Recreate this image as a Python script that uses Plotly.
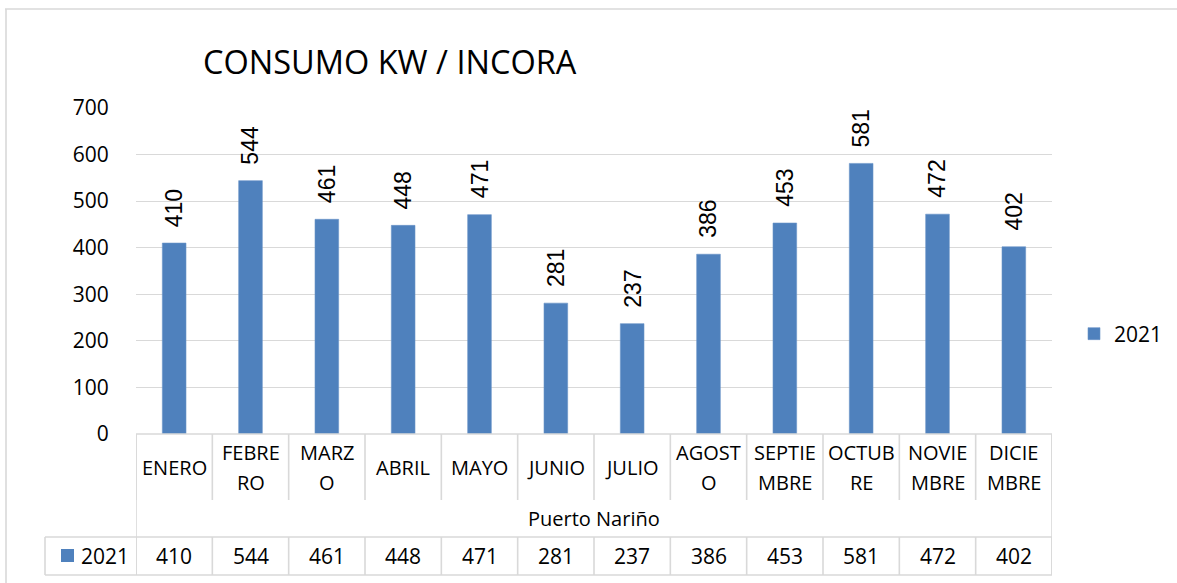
import plotly.graph_objects as go

# ---- data ----
months = ["ENERO", "FEBRE|RO", "MARZ|O", "ABRIL", "MAYO", "JUNIO", "JULIO",
          "AGOST|O", "SEPTIE|MBRE", "OCTUB|RE", "NOVIE|MBRE", "DICIE|MBRE"]
values_2021 = [410, 544, 461, 448, 471, 281, 237, 386, 453, 581, 472, 402]
series_name = "2021"
group_label = "Puerto Nariño"
title_text = "CONSUMO KW / INCORA"
y_ticks = [0, 100, 200, 300, 400, 500, 600, 700]

# ---- layout geometry (pixels) ----
WIDTH, HEIGHT = 1177, 583
L, R, T, B = 136, 1052, 108, 434
PW, PH = R - L, B - T

def px(x):
    return (x - L) / PW

def py(y):
    return (B - y) / PH

BAR_COLOR = "#4f81bd"
GRID = "#d9d9d9"
CAL = "'Open Sans', Lato, sans-serif"
ARI = "'Liberation Sans', Arial, sans-serif"

idx = list(range(len(months)))

fig = go.Figure()
fig.add_trace(go.Bar(
    x=idx, y=values_2021, name=series_name,
    marker=dict(color=BAR_COLOR, line=dict(color="#6a94c8", width=0.6)),
    width=0.31, showlegend=True,
))

annotations = []
# data labels (rotated)
for i, v in zip(idx, values_2021):
    annotations.append(dict(
        x=i, y=v, xref="x", yref="y", text=str(v), showarrow=False,
        textangle=-90, xanchor="center", yanchor="bottom", yshift=14,
        font=dict(family=ARI, size=23, color="#000000"),
    ))

# table: month row (one annotation per line to control line spacing)
for i, m in zip(idx, months):
    parts = m.split("|")
    ys = [467] if len(parts) == 1 else [453, 482]
    for part, yy in zip(parts, ys):
        annotations.append(dict(
            x=i, y=py(yy), xref="x", yref="paper", text=part, showarrow=False,
            xanchor="center", yanchor="middle",
            font=dict(family=CAL, size=20, color="#000000"),
        ))
# group label
annotations.append(dict(
    x=(len(months) - 1) / 2, y=py(518), xref="x", yref="paper", text=group_label,
    showarrow=False, xanchor="center", yanchor="middle",
    font=dict(family=CAL, size=20, color="#000000"),
))
# value row
for i, v in zip(idx, values_2021):
    annotations.append(dict(
        x=i, y=py(556), xref="x", yref="paper", text=str(v), showarrow=False,
        xanchor="center", yanchor="middle",
        font=dict(family=CAL, size=21, color="#000000"),
    ))
# row header text
annotations.append(dict(
    x=px(79), y=py(556), xref="paper", yref="paper", text=series_name,
    showarrow=False, xanchor="left", yanchor="middle",
    font=dict(family=CAL, size=21, color="#000000"),
))
# title
annotations.append(dict(
    x=px(390), y=py(62), xref="paper", yref="paper", text=title_text,
    showarrow=False, xanchor="center", yanchor="middle",
    font=dict(family=CAL, size=32.5, color="#000000"),
))

shapes = []
def line(x0, y0, x1, y1, xref="paper", yref="paper", color=GRID, w=1.6):
    shapes.append(dict(type="line", x0=x0, y0=y0, x1=x1, y1=y1, xref=xref, yref=yref,
                       line=dict(color=color, width=w), layer="above"))

n = len(months)
# outer chart border
line(px(5), py(9), px(1200), py(9))
line(px(6), py(9), px(6), py(600))
# table top
line(-0.5, py(434), n - 0.5, py(434), xref="x")
# month row separators
for k in range(n + 1):
    line(k - 0.5, py(434), k - 0.5, py(500), xref="x")
# outer table sides
line(-0.5, py(434), -0.5, py(575), xref="x")
line(n - 0.5, py(434), n - 0.5, py(575), xref="x")
# value row
line(px(45), py(537), px(R), py(537))
line(px(45), py(575), px(R), py(575))
line(px(45), py(537), px(45), py(575))
for k in range(n + 1):
    line(k - 0.5, py(537), k - 0.5, py(575), xref="x")
# row header key square
shapes.append(dict(type="rect", xref="paper", yref="paper",
                   x0=px(61), x1=px(74), y0=py(562), y1=py(549),
                   fillcolor=BAR_COLOR, line=dict(width=0)))

fig.update_layout(
    width=WIDTH, height=HEIGHT,
    margin=dict(l=L, r=WIDTH - R, t=T, b=HEIGHT - B, pad=0),
    paper_bgcolor="white", plot_bgcolor="white",
    bargap=0.5,
    xaxis=dict(range=[-0.5, n - 0.5], showticklabels=False, showgrid=False,
               zeroline=False, showline=False, ticks=""),
    yaxis=dict(range=[0, 700], tickvals=y_ticks, showgrid=True, gridcolor=GRID,
               gridwidth=1.4, zeroline=False, showline=False,
               ticks="outside", ticklen=22, tickcolor="rgba(0,0,0,0)",
               tickfont=dict(family=CAL, size=21, color="#000000")),
    legend=dict(xref="container", yref="container",
                x=1074 / WIDTH, y=1 - 334 / HEIGHT, xanchor="left", yanchor="middle",
                font=dict(family=CAL, size=21, color="#000000"),
                itemwidth=30, bgcolor="rgba(0,0,0,0)"),
    annotations=annotations, shapes=shapes,
)

fig.write_html("out.html", config={"displayModeBar": False},
               post_script="document.body.style.margin='0';")
